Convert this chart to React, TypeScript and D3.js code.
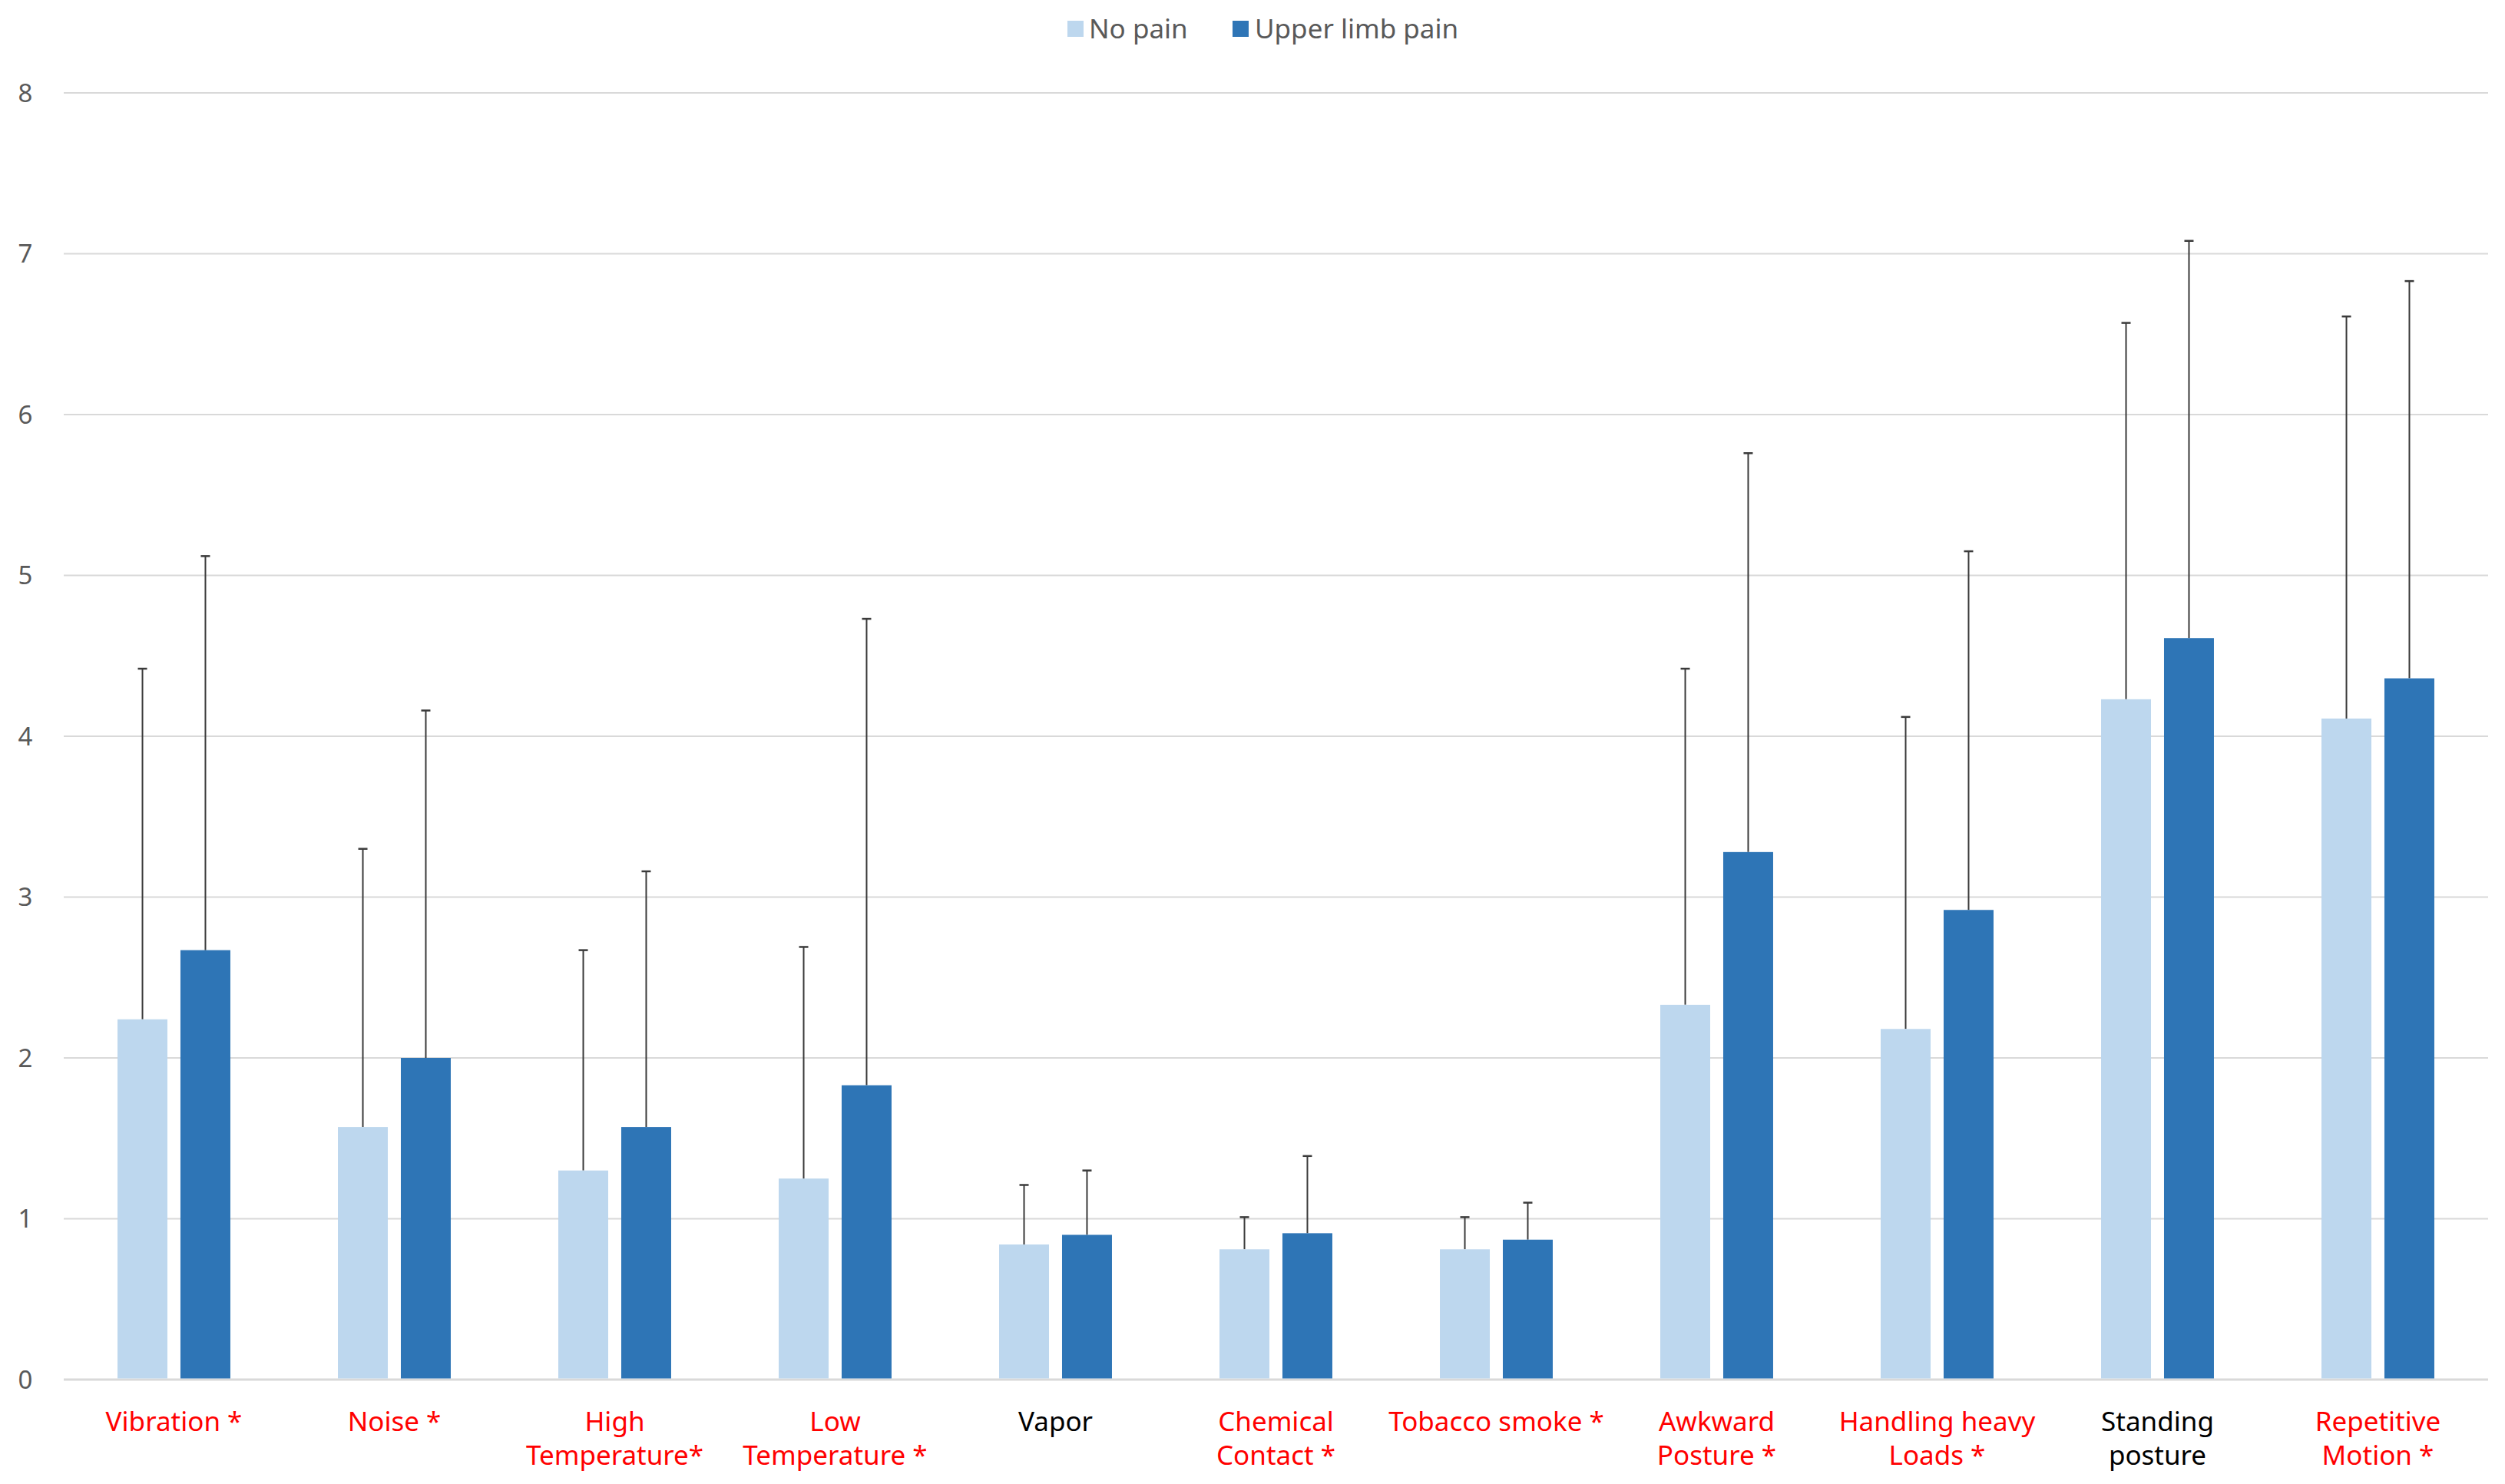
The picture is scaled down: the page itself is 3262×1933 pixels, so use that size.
import * as d3 from "d3";
import * as React from "react";

const categories = [
  "Vibration *", "Noise *", "High Temperature*", "Low Temperature *", "Vapor",
  "Chemical Contact *", "Tobacco smoke *", "Awkward Posture *", "Handling heavy Loads *",
  "Standing posture", "Repetitive Motion *",
];
// label lines as printed under the axis
const labelLines = [
  ["Vibration *"], ["Noise *"], ["High", "Temperature*"], ["Low", "Temperature *"], ["Vapor"],
  ["Chemical", "Contact *"], ["Tobacco smoke *"], ["Awkward", "Posture *"], ["Handling heavy", "Loads *"],
  ["Standing", "posture"], ["Repetitive", "Motion *"],
];
const significant = [true, true, true, true, false, true, true, true, true, false, true];

const seriesNames = ["No pain", "Upper limb pain"];
const seriesColors = ["#bdd7ee", "#2e75b6"];

const noPainMean = [2.24, 1.57, 1.30, 1.25, 0.84, 0.81, 0.81, 2.33, 2.18, 4.23, 4.11];
const noPainUpper = [4.42, 3.30, 2.67, 2.69, 1.21, 1.01, 1.01, 4.42, 4.12, 6.57, 6.61];
const painMean = [2.67, 2.00, 1.57, 1.83, 0.90, 0.91, 0.87, 3.28, 2.92, 4.61, 4.36];
const painUpper = [5.12, 4.16, 3.16, 4.73, 1.30, 1.39, 1.10, 5.76, 5.15, 7.08, 6.83];

const yTicks = [0, 1, 2, 3, 4, 5, 6, 7, 8];

export default function App() {
  const width = 3262;
  const height = 1933;
  const left = 83, right = 3240, top = 121, bottom = 1797;

  const x0 = d3.scaleBand<string>().domain(categories).range([left, right])
    .paddingInner(0.488).paddingOuter(0.244);
  const x1 = d3.scaleBand<string>().domain(seriesNames).range([0, x0.bandwidth()])
    .paddingInner(0.207).paddingOuter(0);
  const y = d3.scaleLinear().domain([0, 8]).range([bottom, top]);

  const means = [noPainMean, painMean];
  const uppers = [noPainUpper, painUpper];
  const font = "'Noto Sans', 'Open Sans', sans-serif";

  return (
    <svg width={width} height={height} style={{ position: "absolute", left: 0, top: 0, background: "#fff" }}>
      {yTicks.map((t) => (
        <g key={"grid" + t}>
          <line x1={left} x2={right} y1={y(t)} y2={y(t)} stroke="#d9d9d9" strokeWidth={t === 0 ? 3 : 2} />
          <text x={33} y={y(t)} dy="0.35em" textAnchor="middle" fontSize={33} fill="#595959" fontFamily={font}>{t}</text>
        </g>
      ))}
      {categories.map((c, i) => (
        <g key={"cat" + i}>
          {seriesNames.map((s, j) => {
            const bx = (x0(c) as number) + (x1(s) as number);
            const bw = x1.bandwidth();
            const cx = bx + bw / 2;
            return (
              <g key={s}>
                <line x1={cx} x2={cx} y1={y(means[j][i])} y2={y(uppers[j][i])} stroke="#3a3a3a" strokeWidth={2} />
                <line x1={cx - 6} x2={cx + 6} y1={y(uppers[j][i])} y2={y(uppers[j][i])} stroke="#3a3a3a" strokeWidth={2.5} />
                <rect x={bx} y={y(means[j][i])} width={bw} height={y(0) - y(means[j][i]) - 1.5} fill={seriesColors[j]} />
              </g>
            );
          })}
          <text textAnchor="middle" fontSize={35} fontFamily={font} fill={significant[i] ? "#ff0000" : "#000000"}>
            {labelLines[i].map((ln, k) => (
              <tspan key={k} x={(x0(c) as number) + x0.bandwidth() / 2} y={1864 + k * 44}>{ln}</tspan>
            ))}
          </text>
        </g>
      ))}
      <g>
        <rect x={1390} y={27} width={21} height={21} fill={seriesColors[0]} />
        <text x={1418} y={38} dy="0.35em" fontSize={35} fill="#595959" fontFamily={font}>{seriesNames[0]}</text>
        <rect x={1605} y={27} width={21} height={21} fill={seriesColors[1]} />
        <text x={1634} y={38} dy="0.35em" fontSize={35} fill="#595959" fontFamily={font}>{seriesNames[1]}</text>
      </g>
    </svg>
  );
}
